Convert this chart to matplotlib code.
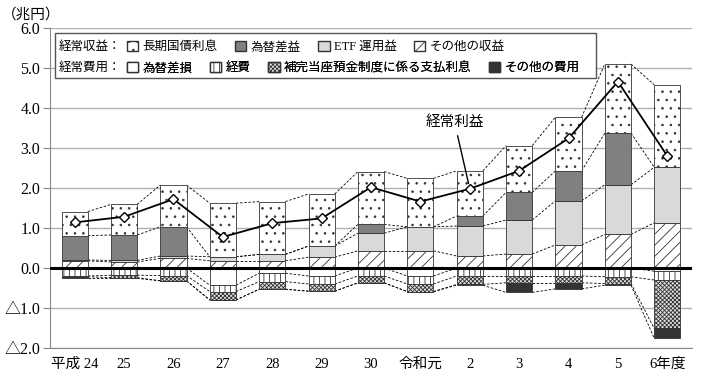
import matplotlib
matplotlib.use("Agg")
import matplotlib.pyplot as plt
import numpy as np
from matplotlib.patches import Patch, Rectangle

plt.rcParams['font.family'] = ['Liberation Serif', 'Noto Sans CJK JP']
plt.rcParams['hatch.linewidth'] = 0.6

years = ['平成 24', '25', '26', '27', '28', '29', '30', '令和元', '2', '3', '4', '5', '6年度']

# 経常収益 (兆円)
other_inc = [0.18, 0.15, 0.24, 0.18, 0.18, 0.27, 0.43, 0.43, 0.30, 0.35, 0.575, 0.84, 1.13]
etf = [0.02, 0.04, 0.06, 0.10, 0.16, 0.28, 0.44, 0.60, 0.75, 0.85, 1.105, 1.24, 1.39]
fx_gain = [0.61, 0.635, 0.73, 0.0, 0.0, 0.0, 0.22, 0.0, 0.25, 0.69, 0.75, 1.29, 0.0]
jgb = [0.60, 0.765, 1.045, 1.34, 1.32, 1.30, 1.32, 1.21, 1.13, 1.17, 1.34, 1.73, 2.06]

# 経常費用 (兆円)
fx_loss = [0.0, 0.0, 0.0, 0.43, 0.13, 0.20, 0.0, 0.20, 0.0, 0.0, 0.0, 0.0, 0.08]
expenses = [0.20, 0.18, 0.19, 0.16, 0.21, 0.20, 0.20, 0.20, 0.20, 0.20, 0.20, 0.22, 0.22]
complementary = [0.02, 0.06, 0.13, 0.21, 0.19, 0.18, 0.17, 0.19, 0.21, 0.17, 0.17, 0.17, 1.21]
other_exp = [0.04, 0.02, 0.0, 0.0, 0.0, 0.0, 0.0, 0.0, 0.02, 0.24, 0.15, 0.04, 0.25]

# 経常利益
profit = [1.14, 1.28, 1.72, 0.775, 1.12, 1.24, 2.02, 1.66, 1.98, 2.43, 3.24, 4.66, 2.80]

x = np.arange(len(years))
w = 0.53
edge = '#333333'

fig = plt.figure(figsize=(7.03, 3.76), dpi=100)
ax = fig.add_axes([50 / 703, 28 / 376, 642 / 703, 320 / 376])

inc_layers = [(other_inc, 'white', '///'), (etf, '#d9d9d9', None),
              (fx_gain, '#808080', None), (jgb, 'white', '..')]
exp_layers = [(fx_loss, 'white', None), (expenses, 'white', '|||'),
              (complementary, '#e0e0e0', 'xxxxxxxx'), (other_exp, '#333333', None)]

bounds = []
bottom = np.zeros(len(x))
for vals, fc, h in inc_layers:
    vals = np.array(vals)
    ax.bar(x, vals, w, bottom=bottom, color=fc, edgecolor=edge, linewidth=0.6,
           hatch=h, zorder=2)
    bottom = bottom + vals
    bounds.append(bottom.copy())

bottom = np.zeros(len(x))
for vals, fc, h in exp_layers:
    vals = np.array(vals)
    ax.bar(x, -vals, w, bottom=bottom, color=fc, edgecolor=edge, linewidth=0.6,
           hatch=h, zorder=2)
    bottom = bottom - vals
    bounds.append(bottom.copy())

# dashed connectors between bars
for b in bounds:
    for i in range(len(x) - 1):
        ax.plot([x[i] + w / 2, x[i + 1] - w / 2], [b[i], b[i + 1]],
                ls=(0, (3, 2)), color='black', lw=0.6, zorder=1)

ax.axhline(0, color='black', lw=2.2, zorder=3)

ax.plot(x, profit, color='black', lw=1.3, marker='D', ms=5,
        mfc='white', mec='black', mew=1, zorder=6)
ax.annotate('経常利益', xy=(8, profit[8]), xytext=(7.69, 3.65),
            ha='center', va='center', fontsize=10.5,
            arrowprops=dict(arrowstyle='-', color='black', lw=1, shrinkA=3, shrinkB=4))

ax.set_xlim(-0.5, 12.5)
ax.set_ylim(-2, 6)
ax.set_yticks(range(-2, 7))
ax.set_yticklabels(['△2.0', '△1.0', '0.0', '1.0', '2.0', '3.0', '4.0', '5.0', '6.0'])
ax.set_xticks(x)
ax.set_xticklabels(years)
ax.yaxis.grid(True, color='#b0b0b0', lw=1)
ax.set_axisbelow(True)
for s in ['top', 'right']:
    ax.spines[s].set_visible(False)
ax.spines['left'].set_color('#888888')
ax.spines['bottom'].set_color('#888888')
ax.tick_params(axis='y', length=5, color='#888888', labelsize=11.5, pad=2)
ax.tick_params(axis='x', length=0, labelsize=10.5, pad=7)

fig.text(2 / 703, 1 - 15 / 376, '（兆円）', va='center', fontsize=10.5)

# legend
box = Rectangle((0.0078, 0.844), 0.842, 0.14, transform=ax.transAxes,
                facecolor='white', edgecolor='#555555', lw=1, zorder=7, clip_on=False)
ax.add_patch(box)

h1 = [Patch(facecolor='white', edgecolor=edge, hatch='..'),
      Patch(facecolor='#808080', edgecolor=edge),
      Patch(facecolor='#d9d9d9', edgecolor=edge),
      Patch(facecolor='white', edgecolor=edge, hatch='///')]
l1 = ['長期国債利息', '為替差益', 'ETF 運用益', 'その他の収益']
h2 = [Patch(facecolor='white', edgecolor=edge),
      Patch(facecolor='white', edgecolor=edge, hatch='|||'),
      Patch(facecolor='#e0e0e0', edgecolor=edge, hatch='xxxxxxxx'),
      Patch(facecolor='#333333', edgecolor=edge)]
l2 = ['為替差損', '経費', '補完当座預金制度に係る支払利息', 'その他の費用']

row_y = [0.9406, 0.875]
for hs, ls, y, head in [(h1, l1, row_y[0], '経常収益：'), (h2, l2, row_y[1], '経常費用：')]:
    leg = ax.legend(hs, ls, ncol=4, loc='center left', bbox_to_anchor=(0.12, y),
                    frameon=False, fontsize=9, handlelength=0.9, handleheight=0.9,
                    handletextpad=0.35, columnspacing=1.4, borderpad=0, borderaxespad=0)
    leg.set_zorder(8)
    ax.add_artist(leg)
    ax.text(0.014, y, head, transform=ax.transAxes, va='center', fontsize=9, zorder=8)

fig.savefig('out.png', dpi=100)
